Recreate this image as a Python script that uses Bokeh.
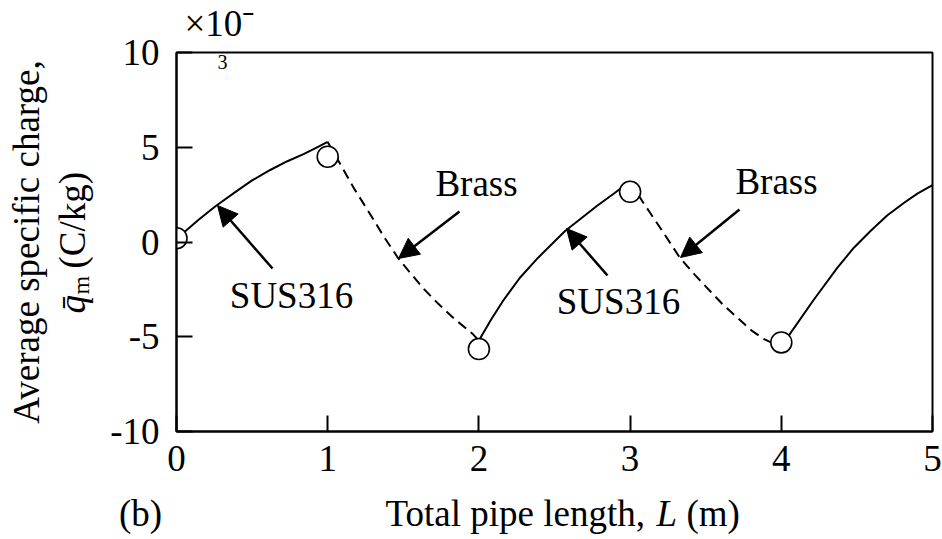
import math
from bokeh.plotting import figure
from bokeh.layouts import column, row
from bokeh.models import Range1d, FixedTicker, Label, Arrow, NormalHead
from bokeh.embed import file_html
from bokeh.resources import INLINE

# ---------------- data ----------------
x_ticks = [0, 1, 2, 3, 4, 5]
y_ticks = [-10, -5, 0, 5, 10]

# SUS316 sections (solid)
sus_a_x = [0.0, 0.06, 0.15, 0.26, 0.40, 0.50, 0.62, 0.73, 0.84, 0.92, 1.0]
sus_a_y = [0.2, 0.58, 1.2, 1.9, 2.7, 3.25, 3.8, 4.25, 4.64, 4.95, 5.28]
sus_b_x = [2.0, 2.08, 2.16, 2.27, 2.39, 2.57, 2.78, 2.90, 3.0]
sus_b_y = [-5.2, -4.1, -3.1, -1.9, -0.84, 0.58, 1.9, 2.6, 3.2]
sus_c_x = [4.0, 4.07, 4.21, 4.37, 4.48, 4.59, 4.70, 4.81, 4.90, 5.0]
sus_c_y = [-5.55, -4.7, -3.1, -1.37, -0.3, 0.58, 1.4, 2.06, 2.55, 3.0]

# Brass sections (dashed)
brass_a_x = [1.0, 1.08, 1.18, 1.28, 1.37, 1.47, 1.63, 1.73, 1.83, 1.96, 2.0]
brass_a_y = [5.28, 4.15, 2.75, 1.48, 0.3, -0.9, -2.43, -3.25, -4.0, -4.86, -5.2]
brass_b_x = [3.0, 3.08, 3.2, 3.33, 3.43, 3.53, 3.62, 3.71, 3.80, 3.88, 4.0]
brass_b_y = [3.2, 2.16, 0.74, -0.84, -1.75, -2.6, -3.35, -4.0, -4.65, -5.1, -5.55]

# measured points (open circles)
meas_x = [0, 1, 2, 3, 4]
meas_y = [0.2, 4.5, -5.65, 2.65, -5.3]

FONT = "Liberation Serif"

# ---------------- page geometry ----------------
PAGE_W, PAGE_H = 942, 539
LEFT_W = 100        # strip left of the main plot
MAIN_H = 491        # main plot height (starts at page top)
BOT_H = PAGE_H - MAIN_H
MAIN_W = PAGE_W - LEFT_W
FX0, FX1, FY0, FY1 = 176.0, 932.0, 52.0, 431.0   # frame edges in page pixels

# ---------------- main figure ----------------
p = figure(width=MAIN_W, height=MAIN_H, output_backend="svg", toolbar_location=None,
           title=None, x_range=Range1d(0, 5), y_range=Range1d(-10, 10),
           min_border_left=int(FX0) - LEFT_W, min_border_right=10,
           min_border_top=int(FY0), min_border_bottom=MAIN_H - int(FY1))
p.grid.visible = False
p.outline_line_color = "black"
p.outline_line_width = 2
p.background_fill_color = "white"
p.border_fill_color = "white"

for ax in (p.xaxis[0], p.yaxis[0]):
    ax.major_tick_in = 16
    ax.major_tick_out = 0
    ax.minor_tick_line_color = None
    ax.axis_line_width = 2
    ax.axis_line_color = "black"
    ax.major_tick_line_width = 2
    ax.major_tick_line_color = "black"
    ax.major_label_text_font = FONT
    ax.major_label_text_font_size = "37px"
    ax.major_label_text_color = "black"
p.xaxis.ticker = FixedTicker(ticks=x_ticks)
p.yaxis.ticker = FixedTicker(ticks=y_ticks)
p.xaxis.major_label_standoff = 14
p.yaxis.major_label_standoff = 17
p.yaxis.major_label_overrides = {-5: "-5", -10: "-10"}

# curves
for xs, ys in ((sus_a_x, sus_a_y), (sus_b_x, sus_b_y), (sus_c_x, sus_c_y)):
    p.line(xs, ys, line_color="black", line_width=2)
for xs, ys in ((brass_a_x, brass_a_y), (brass_b_x, brass_b_y)):
    p.line(xs, ys, line_color="black", line_width=2, line_dash="10 6")

p.scatter(meas_x, meas_y, marker="circle", size=21, fill_color="white",
          line_color="black", line_width=1.6)

# page pixel -> data
def dx(X):
    return (X - FX0) / (FX1 - FX0) * 5.0
def dy(Y):
    return 10.0 - (Y - FY0) / (FY1 - FY0) * 20.0

def lab(fig, text, X, Y, size=37, align="center", angle=0.0, italic=False,
        conv=False, place="center"):
    fig.add_layout(Label(x=dx(X) if conv else X, y=dy(Y) if conv else Y, text=text,
                         text_font=FONT, text_font_size=f"{size}px",
                         text_align=align, text_baseline="middle", angle=angle,
                         text_font_style="italic" if italic else "normal",
                         text_color="black"), place)

def arrow(X0, Y0, X1, Y1):
    p.add_layout(Arrow(end=NormalHead(size=20, fill_color="black", line_color="black"),
                       x_start=dx(X0), y_start=dy(Y0), x_end=dx(X1), y_end=dy(Y1),
                       line_color="black", line_width=2.5))

arrow(272, 268, 217, 205)
arrow(459, 211, 398, 258)
arrow(607, 275, 566, 228)
arrow(739, 209, 680, 257)

lab(p, "SUS316", 291, 294.5, conv=True)
lab(p, "Brass", 476, 182.5, conv=True)
lab(p, "SUS316", 618, 300.5, conv=True)
lab(p, "Brass", 776, 180.5, conv=True)
lab(p, "3", 222, 61.5, size=20, conv=True)
# exponent marker above the frame (side panel, so it is not clipped)
lab(p, "\u00d710\u207b", 184, 22.5, align="left", conv=True, place="above")

# ---------------- text strips ----------------
def strip(w, h, xr, yr):
    f = figure(width=w, height=h, output_backend="svg", toolbar_location=None,
               title=None, x_range=Range1d(*xr), y_range=Range1d(*yr),
               x_axis_location=None, y_axis_location=None, min_border=0)
    f.grid.visible = False
    f.outline_line_color = None
    f.background_fill_color = "white"
    f.border_fill_color = "white"
    return f

# left strip: its frame is aligned with the main frame (FY0..FY1)
left = strip(LEFT_W, MAIN_H, (0, LEFT_W), (FY1, FY0))
A = math.pi / 2
lab(left, "Average specific charge,", 25.5, 241.5, angle=A)
lab(left, "q\u0304", 71.5, 303.8, angle=A, italic=True)
lab(left, "m", 80, 284.6, size=24, angle=A)
lab(left, "(C/kg)", 71.5, 219.7, angle=A)

bottom = strip(PAGE_W, BOT_H, (0, PAGE_W), (PAGE_H, MAIN_H))
lab(bottom, "(b)", 140, 512.5)
lab(bottom, "Total pipe length,", 385, 512.5, align="left")
lab(bottom, "L", 656, 512.5, align="left", italic=True)
lab(bottom, "(m)", 686, 512.5, align="left")

layout = column(row(left, p, spacing=0), bottom, spacing=0)
open("out.html", "w").write(file_html(layout, INLINE))
